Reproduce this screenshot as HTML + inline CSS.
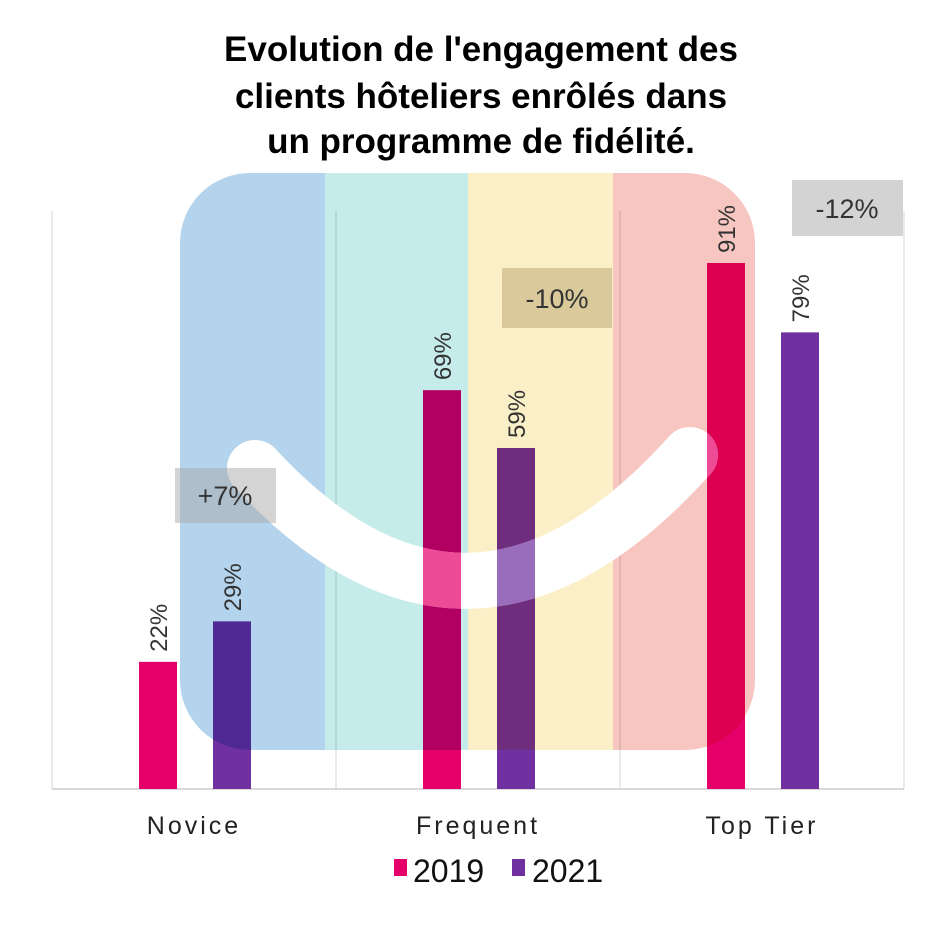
<!DOCTYPE html>
<html><head><meta charset="utf-8"><style>
body{margin:0;background:#fff;width:936px;height:924px;overflow:hidden;font-family:"Liberation Sans",sans-serif}
</style></head><body>
<svg width="936" height="924" viewBox="0 0 936 924" id="chart">
<g font-weight="bold" font-size="35" text-anchor="middle" fill="#000">
<text x="481" y="61">Evolution de l'engagement des</text>
<text x="481" y="108">clients hôteliers enrôlés dans</text>
<text x="481" y="153">un programme de fidélité.</text>
</g>
<g id="grid"></g>
<g id="bars"></g>
<defs>
<clipPath id="rr"><rect x="180" y="173" width="575" height="577" rx="70"/></clipPath>
<mask id="arcmask"><path d="M 255 468 Q 470 700 690 455" fill="none" stroke="#fff" stroke-width="56" stroke-linecap="round"/></mask>
</defs>
<g clip-path="url(#rr)" style="mix-blend-mode:multiply">
<rect x="180" y="173" width="145" height="577" fill="#b3d4ec"/>
<rect x="325" y="173" width="143" height="577" fill="#c5ecea"/>
<rect x="468" y="173" width="145" height="577" fill="#fbefc8"/>
<rect x="613" y="173" width="142" height="577" fill="#f7c6c0"/>
</g>
<path d="M 255 468 Q 470 700 690 455" fill="none" stroke="#fff" stroke-width="56" stroke-linecap="round"/>
<g id="bars2" mask="url(#arcmask)" opacity="0.7"></g>
<g id="labels"></g>
<g font-size="27" text-anchor="middle" fill="#333">
<rect x="175" y="468" width="101" height="55" fill="rgba(170,170,170,0.5)"/>
<text x="225" y="505">+7%</text>
<rect x="502" y="268" width="110" height="60" fill="rgba(185,165,110,0.5)"/>
<text x="557" y="308">-10%</text>
<rect x="792" y="180" width="111" height="56" fill="#d3d3d3"/>
<text x="847" y="218">-12%</text>
</g>
<g id="cats" font-size="25" letter-spacing="3" text-anchor="middle" fill="#222"></g>
<g font-size="32" fill="#111">
<rect x="394" y="859" width="13" height="17" fill="#e6006a"/>
<text x="413" y="882">2019</text>
<rect x="512" y="859" width="13" height="17" fill="#7030a0"/>
<text x="532" y="882">2021</text>
</g>
</svg>
<script>
const categories = ["Novice", "Frequent", "Top Tier"];
const values2019 = [22, 69, 91];
const values2021 = [29, 59, 79];
const NS = "http://www.w3.org/2000/svg";
const x0 = 52, catW = 284, baseY = 789, pxPer = 5.78;
function yScale(v){ return baseY - v * pxPer; }
function catX(i){ return x0 + i * catW; }
function mk(tag, attrs, parent){ const e=document.createElementNS(NS,tag); for(const k in attrs) e.setAttribute(k,attrs[k]); parent.appendChild(e); return e; }
const grid=document.getElementById('grid'), bars=document.getElementById('bars'), bars2=document.getElementById('bars2'), labels=document.getElementById('labels'), cats=document.getElementById('cats');
for(let i=0;i<=categories.length;i++){
  const l=mk('line',{x1:catX(i),x2:catX(i),y1:yScale(100),y2:baseY,stroke:'#e4e4e4','stroke-width':1.5},grid);
  
  
}
const ax=mk('line',{x1:x0,x2:catX(3),y1:baseY,y2:baseY,stroke:'#d9d9d9','stroke-width':2},grid);


const series=[{vals:values2019,col:'#e6006a',off:87,name:'2019'},{vals:values2021,col:'#7030a0',off:161,name:'2021'}];
categories.forEach((c,i)=>{
  series.forEach(s=>{
    const x=catX(i)+s.off, y=yScale(s.vals[i]);
    const r=mk('rect',{x:x,y:y,width:38,height:baseY-y,fill:s.col},bars);
    
    
    const r2=mk('rect',{x:x,y:y,width:38,height:baseY-y,fill:s.col},bars2);
    
    
    const t=mk('text',{x:0,y:0,transform:'translate('+(x+28)+','+(y-10)+') rotate(-90)','font-size':24,fill:'#333'},labels);
    t.textContent=s.vals[i]+'%';
    
    
  });
  const t=mk('text',{x:catX(i)+catW/2,y:834},cats);
  t.textContent=c;
  
  
});
</script>
</body></html>
